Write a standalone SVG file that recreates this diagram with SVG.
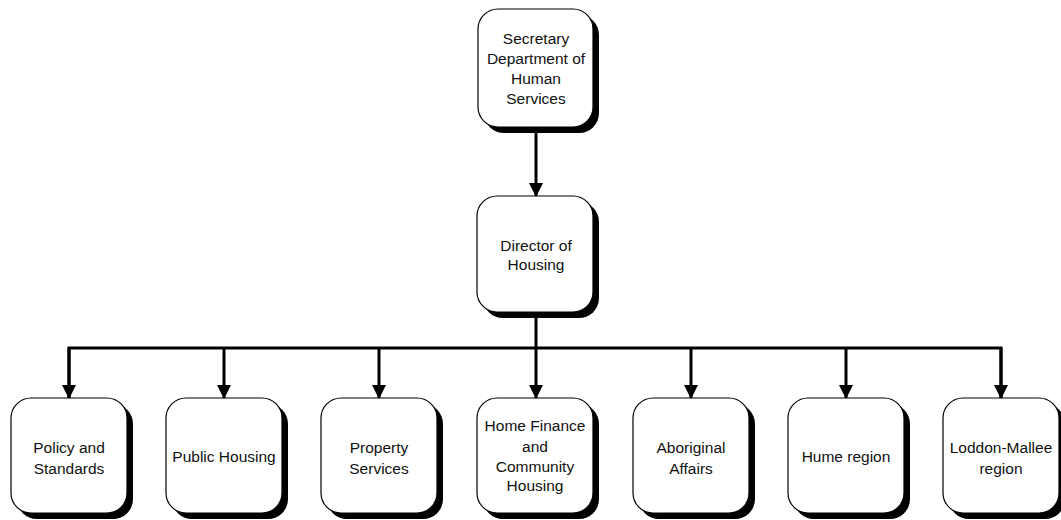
<svg xmlns="http://www.w3.org/2000/svg" width="1061" height="520" viewBox="0 0 1061 520">
<style>
.box{fill:#fff;stroke:#000;stroke-width:1.2}
.sh{fill:#000}
.t{font-family:"Liberation Sans",Arial,sans-serif;font-size:15.5px;fill:#111;text-anchor:middle}
.c{fill:none;stroke:#000;stroke-width:3}
</style>
<defs>
<marker id="ah" markerUnits="userSpaceOnUse" markerWidth="14" markerHeight="14" viewBox="0 0 14 14" refX="13" refY="7" orient="auto">
<path d="M0,0 L14,7 L0,14 Z" fill="#000"/>
</marker>
</defs>
<rect width="1061" height="520" fill="#fff"/>
<g id="connectors">
<line class="c" x1="536" y1="127" x2="536" y2="196" marker-end="url(#ah)"/>
<line class="c" x1="536" y1="312" x2="536" y2="398" marker-end="url(#ah)"/>
<polyline class="c" points="69,398 69,348 1001,348 1001,398"/>
<line class="c" x1="69" y1="348" x2="69" y2="398" marker-end="url(#ah)"/>
<line class="c" x1="1001" y1="348" x2="1001" y2="398" marker-end="url(#ah)"/>
<line class="c" x1="224" y1="348" x2="224" y2="398" marker-end="url(#ah)"/>
<line class="c" x1="379" y1="348" x2="379" y2="398" marker-end="url(#ah)"/>
<line class="c" x1="691" y1="348" x2="691" y2="398" marker-end="url(#ah)"/>
<line class="c" x1="846" y1="348" x2="846" y2="398" marker-end="url(#ah)"/>
</g>
<g id="secretary">
<rect class="sh" x="484" y="15" width="115" height="118" rx="20"/>
<rect class="box" x="478" y="9" width="115" height="118" rx="20"/>
<text class="t" x="536" y="44">Secretary</text>
<text class="t" x="536" y="64">Department of</text>
<text class="t" x="536" y="84">Human</text>
<text class="t" x="536" y="104">Services</text>
</g>
<g id="director">
<rect class="sh" x="483" y="202" width="116" height="116" rx="20"/>
<rect class="box" x="477" y="196" width="116" height="116" rx="20"/>
<text class="t" x="536" y="251">Director of</text>
<text class="t" x="536" y="270">Housing</text>
</g>
<g id="policy">
<rect class="sh" x="17" y="404" width="116" height="115" rx="20"/>
<rect class="box" x="11" y="398" width="116" height="115" rx="20"/>
<text class="t" x="69" y="453">Policy and</text>
<text class="t" x="69" y="474">Standards</text>
</g>
<g id="public">
<rect class="sh" x="172" y="404" width="116" height="115" rx="20"/>
<rect class="box" x="166" y="398" width="116" height="115" rx="20"/>
<text class="t" x="224" y="462">Public Housing</text>
</g>
<g id="property">
<rect class="sh" x="327" y="404" width="116" height="115" rx="20"/>
<rect class="box" x="321" y="398" width="116" height="115" rx="20"/>
<text class="t" x="379" y="453">Property</text>
<text class="t" x="379" y="474">Services</text>
</g>
<g id="homefinance">
<rect class="sh" x="483" y="404" width="116" height="115" rx="20"/>
<rect class="box" x="477" y="398" width="116" height="115" rx="20"/>
<text class="t" x="535" y="431">Home Finance</text>
<text class="t" x="535" y="452">and</text>
<text class="t" x="535" y="472">Community</text>
<text class="t" x="535" y="491">Housing</text>
</g>
<g id="aboriginal">
<rect class="sh" x="639" y="404" width="116" height="115" rx="20"/>
<rect class="box" x="633" y="398" width="116" height="115" rx="20"/>
<text class="t" x="691" y="453">Aboriginal</text>
<text class="t" x="691" y="474">Affairs</text>
</g>
<g id="hume">
<rect class="sh" x="794" y="404" width="116" height="115" rx="20"/>
<rect class="box" x="788" y="398" width="116" height="115" rx="20"/>
<text class="t" x="846" y="462">Hume region</text>
</g>
<g id="loddon">
<rect class="sh" x="949" y="404" width="116" height="115" rx="20"/>
<rect class="box" x="943" y="398" width="116" height="115" rx="20"/>
<text class="t" x="1001" y="453">Loddon-Mallee</text>
<text class="t" x="1001" y="474">region</text>
</g>
</svg>
